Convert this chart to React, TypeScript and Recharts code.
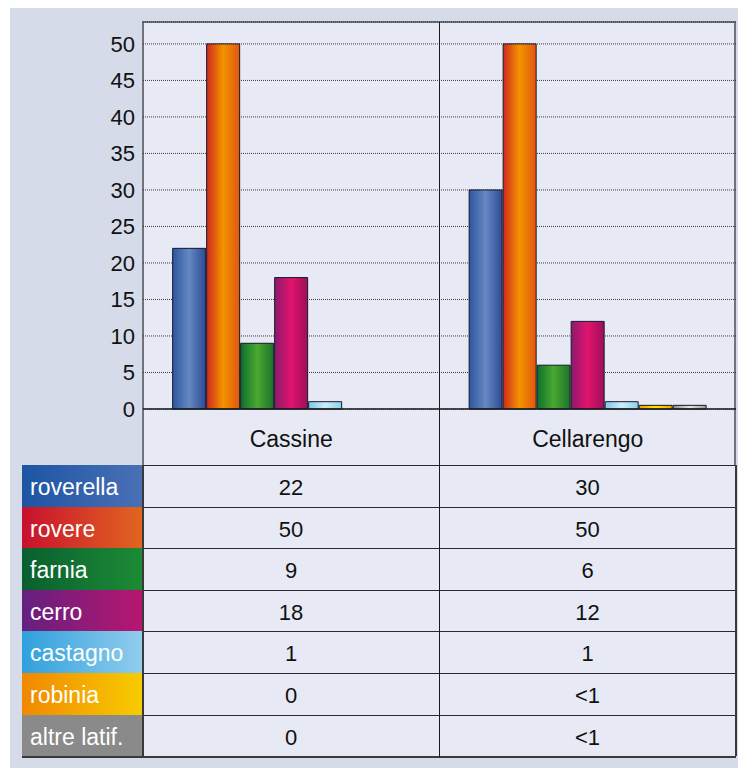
import React from "react"
import { BarChart, Bar, XAxis, YAxis, CartesianGrid } from "recharts"

const sites = ["Cassine", "Cellarengo"]
const species = ["roverella", "rovere", "farnia", "cerro", "castagno", "robinia", "altre latif."]
const cassine = [22, 50, 9, 18, 1, 0, 0]
const cellarengo = [30, 50, 6, 12, 1, 0.5, 0.5]
const cassineText = ["22", "50", "9", "18", "1", "0", "0"]
const cellarengoText = ["30", "50", "6", "12", "1", "<1", "<1"]
const yTicks = [0, 5, 10, 15, 20, 25, 30, 35, 40, 45, 50]

// bar gradients: left / middle / right
const barStops = [
  ["#2c57a0", "#6688c2", "#2d4a94"],
  ["#d0281e", "#f39400", "#e2560f"],
  ["#0c6f2c", "#4aa832", "#1c7229"],
  ["#8a1b6c", "#e2136e", "#9c0f58"],
  ["#7ec6ea", "#cdeefb", "#8fd0ef"],
  ["#f0a000", "#ffe800", "#f2a400"],
  ["#8d8d8d", "#e6e6e6", "#9a9a9a"],
]

// table label cells
const labelBg = [
  "linear-gradient(90deg,#1c55a4,#4a70b6)",
  "linear-gradient(90deg,#c8102e,#e2661f)",
  "linear-gradient(90deg,#0a5f2f,#1c8b35)",
  "linear-gradient(90deg,#64207f,#b8166f)",
  "linear-gradient(90deg,#2fa0dc,#92cdee)",
  "linear-gradient(90deg,#f08800,#f8cc00)",
  "#8a8a8a",
]

const keys = species.map((_, i) => "s" + i)
const data = sites.map((site, si) => {
  const row: Record<string, string | number> = { site }
  const vals = si === 0 ? cassine : cellarengo
  keys.forEach((k, i) => (row[k] = vals[i]))
  return row
})

const font = "'Liberation Sans', Arial, Helvetica, sans-serif"
const ROW_TOP = 465
const ROW_H = 41.6

export default function App() {
  return (
    <div style={{ position: "relative", width: 738, height: 770, fontFamily: font, background: "#fff" }}>
      <style>{"body{margin:0}"}</style>
      <div style={{ position: "absolute", left: 10, top: 8, width: 728, height: 760, background: "#d5dbe8" }} />
      {/* plot panel */}
      <div
        style={{
          position: "absolute",
          left: 142,
          top: 21,
          width: 594,
          height: 444,
          background: "#e7eaf4",
          borderTop: "2px solid #6f737c",
          borderLeft: "2px solid #6f737c",
          borderRight: "2px solid #6f737c",
          boxSizing: "border-box",
        }}
      />
      <div style={{ position: "absolute", left: 439, top: 22, width: 1, height: 735, background: "#1a1a1a", zIndex: 2 }} />

      <div style={{ position: "absolute", left: 0, top: 0 }}>
        <BarChart
          width={738}
          height={465}
          data={data}
          margin={{ top: 22, right: 2, bottom: 0, left: 0 }}
          barCategoryGap="10%"
          barGap={1}
        >
          <defs>
            {barStops.map((s, i) => (
              <linearGradient key={i} id={"g" + i} x1="0" y1="0" x2="1" y2="0">
                <stop offset="0%" stopColor={s[0]} />
                <stop offset="50%" stopColor={s[1]} />
                <stop offset="100%" stopColor={s[2]} />
              </linearGradient>
            ))}
          </defs>
          <CartesianGrid vertical={false} stroke="#3a3a3a" strokeDasharray="1 1" />
          <XAxis
            dataKey="site"
            height={56}
            tickLine={false}
            axisLine={{ stroke: "#1a1a1a", strokeWidth: 1.5 }}
            tickMargin={16}
            tick={{ fontSize: 23, fill: "#111", fontFamily: font }}
          />
          <YAxis
            width={143}
            domain={[0, 53]}
            ticks={yTicks}
            axisLine={false}
            tickLine={false}
            tick={{ fontSize: 22, fill: "#111", fontFamily: font }}
          />
          {keys.map((k, i) => (
            <Bar key={k} dataKey={k} fill={`url(#g${i})`} stroke="#15182a" strokeWidth={1} isAnimationActive={false} />
          ))}
        </BarChart>
      </div>

      {/* data table */}
      {species.map((name, i) => {
        const top = ROW_TOP + i * ROW_H
        return (
          <React.Fragment key={name}>
            <div
              style={{
                position: "absolute",
                left: 22,
                top,
                width: 121,
                height: ROW_H,
                background: labelBg[i],
                color: "#fff",
                fontSize: 23,
                lineHeight: ROW_H + 4 + "px",
                paddingLeft: 8,
                boxSizing: "border-box",
                whiteSpace: "nowrap",
                overflow: "hidden",
              }}
            >
              {name}
            </div>
            {[cassineText[i], cellarengoText[i]].map((t, c) => (
              <div
                key={c}
                style={{
                  position: "absolute",
                  left: c === 0 ? 143 : 439,
                  top,
                  width: c === 0 ? 296 : 297,
                  height: ROW_H,
                  background: "#e7eaf4",
                  borderTop: "1.5px solid #2a2a2a",
                  boxSizing: "border-box",
                  textAlign: "center",
                  fontSize: 22,
                  lineHeight: ROW_H + 3 + "px",
                  color: "#111",
                }}
              >
                {t}
              </div>
            ))}
          </React.Fragment>
        )
      })}
      <div style={{ position: "absolute", left: 22, top: ROW_TOP + 7 * ROW_H, width: 714, height: 2, background: "#3a3a3a" }} />
      <div style={{ position: "absolute", left: 142, top: ROW_TOP, width: 2, height: 7 * ROW_H, background: "#3a3a3a" }} />
      <div style={{ position: "absolute", left: 735, top: ROW_TOP, width: 1.5, height: 7 * ROW_H, background: "#3a3a3a" }} />
    </div>
  )
}
